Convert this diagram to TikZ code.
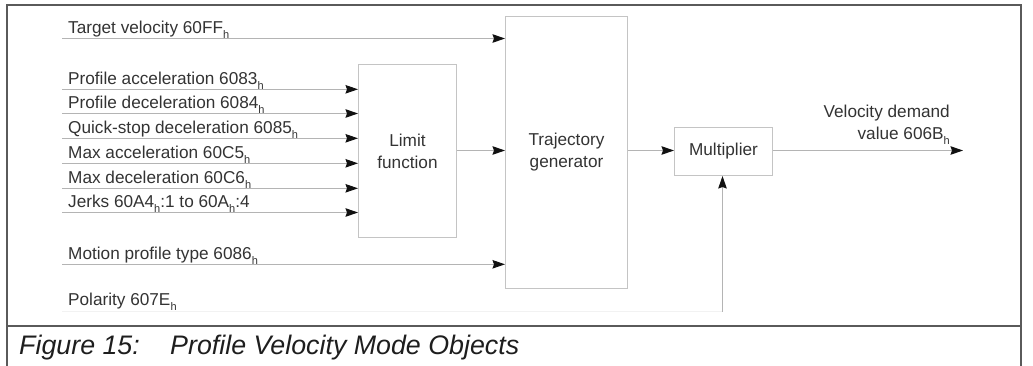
\documentclass[tikz,border=0pt]{standalone}
\usepackage{fontspec}
\setmainfont{Liberation Sans}
\usetikzlibrary{arrows.meta}
\definecolor{frame}{HTML}{5A5A5A}
\definecolor{linegray}{HTML}{B4B4B4}
\definecolor{boxgray}{HTML}{C4C4C4}
\definecolor{faint}{HTML}{F2F2F2}
\definecolor{txt}{HTML}{333333}
\definecolor{captxt}{HTML}{1E1E1E}
\definecolor{tipcol}{HTML}{111111}
\newcommand{\hh}{\raisebox{-5pt}{\fontsize{11}{11}\selectfont h}}
\tikzset{
  blk/.style={draw=boxgray, line width=1pt, text=txt, align=center, inner sep=0pt,
    font=\fontsize{17.2}{22}\selectfont, anchor=north west},
  lbl/.style={text=txt, inner sep=0pt, font=\fontsize{17.2}{22}\selectfont, anchor=base west},
  arr/.style={draw=linegray, line width=1pt,
    -{Stealth[length=12.5pt,width=8.5pt,inset=1.5pt,color=tipcol,fill=tipcol]}},
  captext/.style={text=captxt, inner sep=0pt, font=\fontsize{26.8}{30}\selectfont\itshape, anchor=base west},
  frm/.style={draw=frame, line width=1.6pt}
}
\begin{document}
\begin{tikzpicture}[x=1pt,y=-1pt]
\useasboundingbox (0,0) rectangle (1033,365);
% frame
\draw[frm] (7,370) -- (7,5) -- (1021,5) -- (1021,370);
\draw[frm] (7,326) -- (1021,326);
% blocks
\node[blk, minimum width=98pt, minimum height=173pt] (limit) at (358,64) {Limit\\function};
\node[blk, minimum width=122pt, minimum height=272pt] (traj) at (505,16) {Trajectory\\generator};
\node[blk, minimum width=98pt, minimum height=48pt] (mult) at (674,127) {Multiplier};
% input coordinates
\coordinate (tv) at (62,38.5);
\coordinate (i1) at (62,89.3);
\coordinate (i2) at (62,113.5);
\coordinate (i3) at (62,138.3);
\coordinate (i4) at (62,163.3);
\coordinate (i5) at (62,188.3);
\coordinate (i6) at (62,212.5);
\coordinate (mp) at (62,264.3);
\coordinate (pol) at (62,311.5);
\coordinate (polc) at (722.5,311.5);
\coordinate (out) at (963,150.5);
% labels
\node[lbl] (ltv) at (68,33.5) {Target velocity 60FF\hh};
\node[lbl] (l1) at (68,84.3) {Profile acceleration 6083\hh};
\node[lbl] (l2) at (68,108.5) {Profile deceleration 6084\hh};
\node[lbl] (l3) at (68,133.3) {Quick-stop deceleration 6085\hh};
\node[lbl] (l4) at (68,158.3) {Max acceleration 60C5\hh};
\node[lbl] (l5) at (68,183.3) {Max deceleration 60C6\hh};
\node[lbl] (l6) at (68,207.5) {Jerks 60A4\hh:1 to 60A\hh:4};
\node[lbl] (lmp) at (68,259.3) {Motion profile type 6086\hh};
\node[lbl] (lpol) at (68,305) {Polarity 607E\hh};
\node[text=txt, inner sep=0pt, font=\fontsize{17.2}{22}\selectfont, align=right, anchor=south east] (lout) at (950,145) {Velocity demand\\value 606B\hh};
% connectors
\draw[arr] (tv) -- (tv -| traj.west);
\draw[arr] (i1) -- (i1 -| limit.west);
\draw[arr] (i2) -- (i2 -| limit.west);
\draw[arr] (i3) -- (i3 -| limit.west);
\draw[arr] (i4) -- (i4 -| limit.west);
\draw[arr] (i5) -- (i5 -| limit.west);
\draw[arr] (i6) -- (i6 -| limit.west);
\draw[arr] (limit.east |- out) -- (out -| traj.west);
\draw[arr] (mp) -- (mp -| traj.west);
\draw[arr] (traj.east |- out) -- (out -| mult.west);
\draw[arr] (mult.east |- out) -- (out);
\draw[draw=faint, line width=1pt] (pol) -- (polc);
\draw[arr] (polc) -- (polc |- mult.south);
% caption
\node[captext] (fig) at (19,354) {Figure 15:};
\node[captext] (figt) at (170,354) {Profile Velocity Mode Objects};
\end{tikzpicture}
\end{document}
